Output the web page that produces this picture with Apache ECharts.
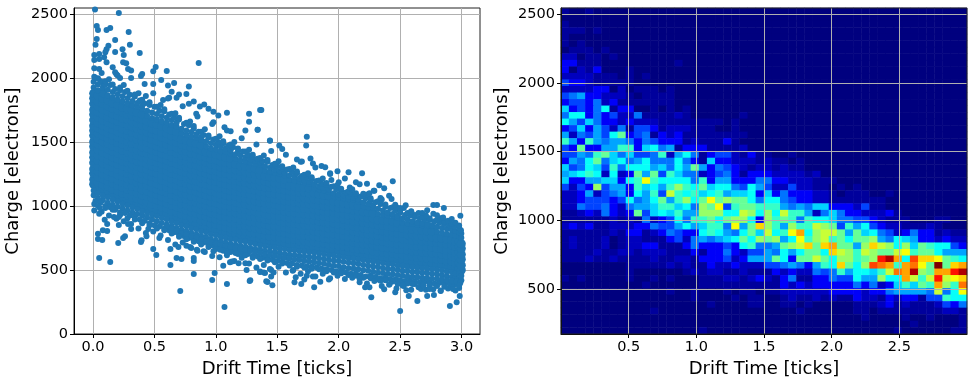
<!DOCTYPE html>
<html><head><meta charset="utf-8">
<script src="https://cdn.jsdelivr.net/npm/echarts@6/dist/echarts.min.js"></script>
<style>html,body{margin:0;padding:0;background:#fff}#c{width:974px;height:385px}</style></head>
<body><div id="c"></div>
<script>
const xTicks=[0,0.5,1,1.5,2,2.5,3];
const yTicks=[0,500,1000,1500,2000,2500];
const heatXTicks=[0.5,1,1.5,2,2.5];
const heatYTicks=[500,1000,1500,2000,2500];
const xTitle='Drift Time [ticks]';
const yTitle='Charge [electrons]';
// Left panel: each column is [drift time, charge, charge, ...]
const denseColumns=[
[0.005,1085,1122,1170,1208,1255,1290,1338,1380,1418,1465,1502,1550,1590,1628,1672,1715,1752,1800,1842,1880,1925,1970],
[0.04,1060,1100,1145,1188,1228,1272,1312,1355,1398,1440,1482,1525,1568,1610,1650,1695,1735,1778,1820,1862,1905,1950],
[0.08,1045,1082,1128,1165,1212,1250,1296,1335,1380,1418,1465,1502,1548,1588,1632,1672,1716,1755,1800,1840,1885,1925,1965],
[0.12,1025,1068,1108,1152,1192,1236,1276,1320,1360,1404,1444,1488,1528,1572,1612,1656,1696,1740,1780,1824,1864,1908],
[0.16,1010,1050,1095,1132,1178,1216,1262,1300,1346,1384,1430,1468,1514,1552,1598,1636,1682,1720,1766,1804,1850,1890],
[0.20,995,1035,1076,1118,1160,1202,1244,1286,1328,1370,1412,1454,1496,1538,1580,1622,1664,1706,1748,1790,1832,1874],
[0.24,980,1018,1062,1100,1146,1184,1230,1268,1314,1352,1398,1436,1482,1520,1566,1604,1650,1688,1734,1772,1818,1858],
[0.28,965,1005,1046,1088,1130,1172,1214,1256,1298,1340,1382,1424,1466,1508,1550,1592,1634,1676,1718,1760,1802,1842],
[0.32,950,988,1032,1070,1116,1154,1200,1238,1284,1322,1368,1406,1452,1490,1536,1574,1620,1658,1704,1742,1788,1820],
[0.36,938,976,1018,1060,1102,1144,1186,1228,1270,1312,1354,1396,1438,1480,1522,1564,1606,1648,1690,1732,1774,1805],
[0.40,925,960,1004,1042,1088,1126,1172,1210,1256,1294,1340,1378,1424,1462,1508,1546,1592,1630,1676,1714,1758,1785],
[0.44,910,950,992,1034,1076,1118,1160,1202,1244,1286,1328,1370,1412,1454,1496,1538,1580,1622,1664,1706,1745],
[0.48,895,934,978,1016,1062,1100,1146,1184,1230,1268,1314,1352,1398,1436,1482,1520,1566,1604,1650,1688,1730],
[0.52,880,922,964,1006,1048,1090,1132,1174,1216,1258,1300,1342,1384,1426,1468,1510,1552,1594,1636,1678,1718],
[0.56,868,906,950,988,1034,1072,1118,1156,1202,1240,1286,1324,1370,1408,1454,1492,1538,1576,1622,1660,1702],
[0.60,855,896,938,980,1022,1064,1106,1148,1190,1232,1274,1316,1358,1400,1442,1484,1526,1568,1610,1652,1690],
[0.64,842,878,922,960,1006,1044,1090,1128,1174,1212,1258,1296,1342,1380,1426,1464,1510,1548,1594,1632,1672],
[0.68,828,868,910,952,994,1036,1078,1120,1162,1204,1246,1288,1330,1372,1414,1456,1498,1540,1582,1622,1650],
[0.72,815,852,896,934,980,1018,1064,1102,1148,1186,1232,1270,1316,1354,1400,1438,1484,1522,1568,1604],
[0.76,802,842,884,926,968,1010,1052,1094,1136,1178,1220,1262,1304,1346,1388,1430,1472,1514,1556,1590],
[0.80,790,826,870,908,954,992,1038,1076,1122,1160,1206,1244,1290,1328,1374,1412,1458,1496,1542,1578],
[0.84,778,818,860,902,944,986,1028,1070,1112,1154,1196,1238,1280,1322,1364,1406,1448,1490,1532,1560],
[0.88,765,802,846,884,930,968,1014,1052,1098,1136,1182,1220,1266,1304,1350,1388,1434,1472,1518,1540],
[0.92,755,795,836,878,920,962,1004,1046,1088,1130,1172,1214,1256,1298,1340,1382,1424,1466,1505],
[0.96,742,780,824,862,908,946,992,1030,1076,1114,1160,1198,1244,1282,1328,1366,1412,1450,1490],
[1.00,730,772,814,856,898,940,982,1024,1066,1108,1150,1192,1234,1276,1318,1360,1402,1444,1478],
[1.04,722,758,802,840,886,924,970,1008,1054,1092,1138,1176,1222,1260,1306,1344,1390,1428,1464],
[1.08,714,752,794,836,878,920,962,1004,1046,1088,1130,1172,1214,1256,1298,1340,1382,1424,1450],
[1.12,706,742,784,822,868,906,952,990,1036,1074,1120,1158,1204,1242,1288,1326,1372,1410,1436],
[1.16,698,738,780,822,864,906,948,990,1032,1074,1116,1158,1200,1242,1284,1326,1368,1405],
[1.20,690,726,770,808,854,892,938,976,1022,1060,1106,1144,1190,1228,1274,1312,1358,1395],
[1.24,682,722,764,806,848,890,932,974,1016,1058,1100,1142,1184,1226,1268,1310,1350,1380],
[1.28,672,710,754,792,838,876,922,960,1006,1044,1090,1128,1174,1212,1258,1296,1340,1365],
[1.32,665,704,746,788,830,872,914,956,998,1040,1082,1124,1166,1208,1250,1292,1330,1352],
[1.36,658,694,738,776,822,860,906,944,990,1028,1074,1112,1158,1196,1242,1280,1320,1340],
[1.40,650,688,730,772,814,856,898,940,982,1024,1066,1108,1150,1192,1234,1276,1310],
[1.44,644,680,724,762,808,846,892,930,976,1014,1060,1098,1144,1182,1228,1266,1298],
[1.48,638,676,718,760,802,844,886,928,970,1012,1054,1096,1138,1180,1222,1260,1285],
[1.52,632,668,712,750,796,834,880,918,964,1002,1048,1086,1132,1170,1216,1250,1272],
[1.56,626,664,706,748,790,832,874,916,958,1000,1042,1084,1126,1168,1210,1240,1262],
[1.60,620,656,700,738,784,822,868,906,952,990,1036,1074,1120,1158,1204,1240],
[1.64,616,654,696,738,780,822,864,906,948,990,1032,1074,1116,1158,1200,1228],
[1.68,610,646,690,728,774,812,858,896,942,980,1026,1064,1110,1148,1194,1215],
[1.72,606,644,686,728,770,812,854,896,938,980,1022,1064,1106,1148,1185,1200],
[1.76,602,638,682,720,766,804,850,888,934,972,1018,1056,1102,1140,1172,1188],
[1.80,598,636,678,720,762,804,846,888,930,972,1014,1056,1098,1138,1170],
[1.84,592,628,672,710,756,794,840,878,924,962,1008,1046,1092,1130,1155],
[1.88,586,624,666,708,750,792,834,876,918,960,1002,1044,1086,1122,1140],
[1.92,580,616,660,698,744,782,828,866,912,950,996,1034,1080,1110,1128],
[1.96,575,614,656,698,740,782,824,866,908,950,992,1034,1076,1100],
[2.00,570,606,650,688,734,772,818,856,902,940,986,1024,1066,1092],
[2.04,564,602,644,686,728,770,812,854,896,938,980,1022,1060,1084],
[2.08,558,594,638,676,722,760,806,844,890,928,974,1012,1052,1072],
[2.12,552,590,632,674,716,758,800,842,884,926,968,1010,1046,1062],
[2.16,546,582,626,664,710,748,794,832,878,916,962,1000,1036,1052],
[2.20,540,578,620,662,704,746,788,830,872,914,956,998,1030],
[2.24,534,570,614,652,698,736,782,820,866,904,950,988,1018],
[2.28,528,566,608,650,692,734,776,818,860,902,944,986,1005],
[2.32,522,558,602,640,686,724,770,808,854,892,938,978],
[2.36,516,554,596,638,680,722,764,806,848,890,932,964],
[2.40,510,546,590,628,674,712,758,796,842,880,926,950],
[2.44,505,544,586,628,670,712,754,796,838,880,922,938],
[2.48,500,536,580,618,664,702,748,786,832,870,908,925],
[2.52,495,534,576,618,660,702,744,786,828,870,905],
[2.56,490,526,570,608,654,692,738,776,822,860,892],
[2.60,486,524,566,608,650,692,734,776,818,860,880],
[2.64,482,518,562,600,646,684,730,768,814,852,872],
[2.68,478,516,558,600,642,684,726,768,810,850,865],
[2.72,474,510,554,592,638,676,722,760,806,844,858],
[2.76,470,508,550,592,634,676,718,760,802,840,850],
[2.80,466,502,546,584,630,668,714,752,798,838],
[2.84,460,498,540,582,624,666,708,750,792,828],
[2.88,452,488,532,570,616,654,700,738,784,822],
[2.92,446,484,526,568,610,652,694,736,778,815],
[2.95,438,474,518,556,602,640,686,724,770,805],
[2.98,430,470,512,554,596,638,680,722,764,795],
[2.998,420,456,500,538,584,622,668,706,752,785]
];
// Left panel: uneven points hugging the upper and lower edge of the band
const upperEdge=[[.02,2000],[.06,1975],[.10,1950],[.14,1945],[.18,1915],[.22,1905],[.26,1890],[.30,1870],[.34,1855],[.38,1825],[.42,1800],[.46,1790],[.50,1775],[.54,1745],[.58,1740],[.62,1715],[.66,1690],[.70,1675],[.74,1640],[.78,1630],[.82,1605],[.86,1580],[.90,1555],[.94,1535],[.98,1520],[1.02,1500],[1.06,1490],[1.10,1470],[1.14,1460],[1.18,1430],[1.22,1425],[1.26,1400],[1.30,1385],[1.34,1370],[1.38,1350],[1.42,1345],[1.46,1320],[1.50,1310],[1.54,1295],[1.58,1285],[1.62,1265],[1.66,1255],[1.70,1235],[1.74,1225],[1.78,1210],[1.82,1195],[1.86,1175],[1.90,1165],[1.94,1150],[1.98,1130],[2.02,1120],[2.06,1105],[2.10,1095],[2.14,1085],[2.18,1075],[2.22,1060],[2.26,1045],[2.30,1030],[2.34,1015],[2.38,995],[2.42,985],[2.46,965],[2.50,950],[2.54,930],[2.58,925],[2.62,915],[2.66,905],[2.70,895],[2.74,890],[2.78,880],[2.82,870],[2.86,860],[2.90,850],[2.94,840],[2.98,830],[2.995,810],
[.04,1998],[.10,1975],[.16,1950],[.22,1925],[.28,1900],[.34,1872],[.40,1830],[.46,1810],[.52,1775],[.58,1755],[.64,1720],[.70,1690],[.76,1650],[.82,1625],[.88,1580],[.94,1550],[1.00,1525],[1.06,1505],[1.12,1480],[1.18,1450],[1.24,1425],[1.30,1400],[1.36,1375],[1.42,1360],[1.48,1330],[1.54,1310],[1.60,1290],[1.66,1270],[1.72,1245],[1.78,1225],[1.84,1200],[1.90,1180],[1.96,1155],[2.02,1135],[2.08,1115],[2.14,1100],[2.20,1080],[2.26,1060],[2.32,1038],[2.38,1012],[2.44,990],[2.50,965],[2.56,945],[2.62,930],[2.68,915],[2.74,905],[2.80,890],[2.86,878],[2.92,860],[2.98,848],
[.07,2040],[.13,1990],[.19,2030],[.25,1945],[.31,2000],[.37,1880],[.43,1860],[.49,1880],[.55,1790],[.61,1840],[.67,1725],[.73,1780],[.79,1660],[.85,1700],[.91,1600],[.97,1640],[1.03,1545],[1.09,1590],[1.15,1500],[1.21,1530],[1.27,1440],[1.33,1480],[1.39,1395],[1.45,1430],[1.51,1350],[1.57,1400],[1.63,1300],[1.69,1345],[1.75,1255],[1.81,1300],[1.87,1215],[1.93,1250],[1.99,1165],[2.05,1215],[2.11,1130],[2.17,1170],[2.23,1090],[2.29,1120],[2.35,1050],[2.41,1080],[2.47,990],[2.53,985],[2.59,955],[2.65,945],[2.71,925],[2.77,940],[2.83,905],[2.89,885],[2.95,870]];
const lowerEdge=[[.02,1040],[.06,1025],[.10,1000],[.14,990],[.18,970],[.22,950],[.26,945],[.30,925],[.34,915],[.38,895],[.42,885],[.46,865],[.50,850],[.54,840],[.58,825],[.62,810],[.66,795],[.70,780],[.74,765],[.78,750],[.82,740],[.86,725],[.90,715],[.94,695],[.98,690],[1.02,680],[1.06,670],[1.10,655],[1.14,650],[1.18,640],[1.22,630],[1.26,625],[1.30,610],[1.34,605],[1.38,595],[1.42,590],[1.46,580],[1.50,570],[1.54,565],[1.58,555],[1.62,550],[1.66,540],[1.70,535],[1.74,530],[1.78,525],[1.82,520],[1.86,510],[1.90,505],[1.94,500],[1.98,490],[2.02,495],[2.06,480],[2.10,470],[2.14,475],[2.18,460],[2.22,450],[2.26,455],[2.30,445],[2.34,435],[2.38,440],[2.42,430],[2.46,425],[2.50,420],[2.54,415],[2.58,420],[2.62,410],[2.66,405],[2.70,410],[2.74,400],[2.78,395],[2.82,400],[2.86,390],[2.90,395],[2.94,385],[2.98,380],
[.60,840],[.64,822],[.68,806],[.72,790],[.76,776],[.80,762],[.84,752],[.88,738],[.92,726],[.96,716],[1.0,708],[1.04,696],[1.08,688],[1.12,680],[1.16,674],[1.2,666],[1.24,656],[1.28,648],[1.32,640],[1.36,632],[1.40,622],[1.44,618],[1.48,610],[1.52,602],[1.56,596],[1.60,590],[1.64,582],[1.68,578],[1.72,570],[1.76,566],[1.80,560],[1.84,552],[1.88,548],[1.92,542],[1.96,534],[2.0,532],[2.04,522],[2.08,516],[2.12,512],[2.16,506],[2.2,498],[2.24,494],[2.28,486],[2.32,478],[2.36,476],[2.40,470],[2.44,466],[2.48,460],[2.52,456],[2.56,450],[2.6,448],[2.64,444],[2.68,440],[2.72,436],[2.76,432],[2.8,432],[2.84,426],[2.88,420],[2.92,416],[2.96,410],[2.99,400],
[.01,1015],[.04,1000],[.07,955],[.10,985],[.13,925],[.16,970],[.19,900],[.22,930],[.25,880],[.28,905],[.31,860],[.34,895],[.37,825],[.40,865],[.43,790],[.46,850],[.49,800],[.52,825],[.55,770],[.58,810],[.61,735],[.64,785],[.67,700],[.70,760],[.73,715],[.76,740],[.79,680],[.82,720],[.85,650],[.88,700],[.91,640],[.94,680],[.97,610],[1.00,665],[1.03,600],[1.06,650],[1.09,615],[1.12,640],[1.15,570],[1.18,625],[1.21,595],[1.24,615],[1.27,550],[1.30,595],[1.33,520],[1.36,585],[1.39,540],[1.42,575],[1.45,500],[1.48,560],[1.51,525],[1.54,550],[1.57,480],[1.60,535],[1.63,500],[1.66,525],[1.69,470],[1.72,520],[1.75,490],[1.78,510],[1.81,450],[1.84,505],[1.87,470],[1.90,490],[1.93,435],[1.96,480],[1.99,455],[2.02,475],[2.05,430],[2.08,460],[2.11,440],[2.14,455],[2.17,405],[2.20,440],[2.23,395],[2.26,435],[2.29,415],[2.32,425],[2.35,375],[2.38,420],[2.41,385],[2.44,410],[2.47,355],[2.50,400],[2.53,375],[2.56,395],[2.59,345],[2.62,390],[2.65,365],[2.68,385],[2.71,345],[2.74,380],[2.77,350],[2.80,375],[2.83,335],[2.86,370],[2.89,355],[2.92,365],[2.95,340],[2.98,360]];
// Left panel: loose points around the band, read one by one
const looseDrift=[0.016,0.21,0.03,0.04,0.11,0.14,0.29,0.03,0.18,0.02,0.30,0.125,0.11,0.24,0.18,0.10,0.25,0.38,0.86,0.01,0.05,0.09,0.01,0.05,0.11,0.245,0.27,0.51,0.49,0.60,0.40,0.39,0.31,0.285,0.18,0.2,0.22,0.16,0.01,0.05,0.01,0.42,0.49,0.555,0.66,0.61,0.78,0.64,0.70,0.76,0.68,0.62,0.57,0.82,0.78,0.905,0.87,0.94,0.98,1.09,1.02,1.27,1.37,1.27,1.12,1.07,1.34,1.44,1.24,0.84,0.98,1.36,1.34,1.44,1.74,1.735,1.516,1.54,1.77,1.66,1.70,1.79,1.89,1.86,1.99,2.08,2.19,1.93,1.94,2.0,2.14,2.44,2.33,2.37,2.23,2.285,2.09,2.25,2.2,2.34,2.43,2.46,2.545,2.50,2.59,2.77,2.80,2.856,2.72,2.68,2.80,2.99,2.92,2.85,2.5,2.905,2.96,2.985,2.64,2.72,2.775,2.57,2.46,2.265,2.215,2.25,2.37,2.55,2.67,1.80,1.46,1.41,1.695,1.64,1.85,1.92,1.28,1.45,1.36,1.39,1.47,1.44,1.625,1.74,1.72,1.65,1.79,2.17,2.34,2.48,2.52,2.60,2.74,2.83,2.93,2.98,2.69,2.415,0.05,0.14,0.71,1.07,1.09,0.97,0.99,0.82,1.275,1.42,0.63,0.82,0.82,0.68,0.72,0.49,0.515,0.63,0.695,0.205,0.04,0.04,0.075,0.08,0.115,0.26,0.245,0.39,0.395,0.21,0.095,0.115,0.01,0.05,0.055,0.17,0.21,0.285,0.31,0.45,0.435,0.54,0.76,0.80,0.845,1.06,1.115,1.13,1.185,1.24,1.25,1.36,1.40,0.90,0.98,1.035,1.09,1.16];
const looseCharge=[2536,2508,2406,2375,2375,2391,2360,2305,2297,2260,2260,2253,2224,2224,2203,2201,2180,2196,2118,2180,2188,2162,2141,2149,2123,2123,2115,2087,2053,2055,2032,2016,2058,2070,2045,2020,2000,2084,2076,2071,2010,1954,1954,1985,1962,1941,1933,1892,1871,1876,1845,1845,1829,1816,1798,1793,1777,1759,1736,1728,1707,1720,1751,1658,1585,1616,1595,1509,1590,1720,1655,1751,1596,1511,1542,1472,1472,1446,1371,1364,1348,1333,1302,1312,1271,1263,1255,1255,1204,1186,1186,1193,1162,1139,1173,1119,1144,1100,1095,1062,1054,1010,1005,985,959,1008,1008,985,966,946,928,923,899,910,180,218,249,296,257,296,304,296,327,288,365,365,350,342,352,365,381,412,391,404,409,425,420,450,489,481,481,507,494,456,425,443,450,430,417,391,378,391,352,340,352,378,378,391,594,563,336,211,391,422,477,469,414,406,539,594,570,594,586,664,617,664,680,711,784,742,734,810,805,763,750,719,732,852,893,860,964,940,984,914,914,860,820,820,763,750,690,672,659,534,560,567,553,553,500,484,477,646,646,659,633,633];
// Right panel: 2D histogram levels, top row first, one base-36 digit per bin (blank is 0)
const heatRows=[
"1001","","1","11101","1","101","011101","2201101","33111 00000 00001","30213 0001",
"22221 11010 1","43321 11110 00","22223 30201 1101","45633 22210 1111","34435 23111 1111",
"73435 81330 01010 1","58835 34225 11112 10000 001","86475 33232 22111 11111 01","34736 42514 43122 21110 01","62546 48a34 51323 11111 111 ",
"96396 56653 54333 12111 31","43a33 66993 78561 33311 112","44659 a7574 45926 85134 42131 1001","3658a 57856 85558 53173 32221 21101","74587 49588 86758 6a635 43212 21211",
"67898 2823a 6a497 55234 53133 32222 12","73366 77389 d9888 85936 63335 53322 2111","4243b 46639 7869b 98a78 85486 42242 21101 01","22362 45638 694c9 89789 67783 73533 32210 11100 1","22344 43485 68a69 b8ada baa85 88543 32211 11111",
"22544 53256 67997 85bad 49aa9 99656 57733 32411","11232 5323a 47879 66bbb 88cb8 b8c99 62575 33222 31","11111 12121 52348 599a8 abb83 b9a95 98875 54432 11100 011","23231 12223 35446 86799 5d6ae b96b9 9cba4 96843 22111 21","11111 12133 12354 33898 658a7 c89df 8bcca 6a785 42353 31211",
"12111 20122 11134 25656 78a8b ab68d 9bc9a 8aab6 58763 32322","12111 20122 33111 35333 43895 56abc eaefa a6bec b8b7a 98843","11112 11221 22211 13133 53244 65868 aa8ec b9cba acd9a a8666","11121 12111 12112 21333 42366 6a83a aca8b b9abi kf8he eda98","00000 00011 11121 21132 23222 44565 3698e a8bhg f9fgd alaef",
"00000 00010 00000 12122 11211 13232 25459 68879 cgfkb affik","10100 00010 01010 00111 22123 21351 13354 4866b 88fc9 cicde","00000 00000 10000 00111 11111 11323 23333 35352 3797a 9fb9g","00000 00000 00010 01000 10110 11222 22233 33233 56666 5c58d","00000 00000 00000 01000 01011 00121 12121 13221 32331 44988",
"00000 00000 00000 00010 00011 00110 10000 01112 31211 12435","00000 00000 01000 00000 00000 00001 00000 01101 11111 11221","00000 00000 00000 00000 00000 00000 00000 00100 00100 10001","00000 00000 00000 00000 00000 00000 00000 00000 00010 00001","00000 00000 00000 00100 00000 00000 00000 00000 01000 00011"
];
// the faintest levels read as fractions of a count
const lowLevels=[0,0.6,1.3,2.5,4];
const jet=['#00007f','#0000ff','#007fff','#00ffff','#7fff7f','#ffff00','#ff7f00','#ff0000','#7f0000'];

const coreData=[],rimData=[];
denseColumns.forEach(c=>{for(let i=1;i<c.length;i++){(i>2&&i<c.length-2?coreData:rimData).push([c[0],c[i]]);}});
upperEdge.forEach(p=>rimData.push(p));
lowerEdge.forEach(p=>rimData.push(p));
looseDrift.forEach((d,i)=>rimData.push([d,looseCharge[i]]));
const heatData=[];
heatRows.forEach((r,t)=>{const s=r.replace(/ /g,'');for(let c=0;c<50;c++){let v=c<s.length?parseInt(s[c],36):0;if(v<lowLevels.length)v=lowLevels[v];heatData.push([c,49-t,v]);}});
const idx=[...Array(50).keys()];
const font='"DejaVu Sans"';
const lab={fontFamily:font,fontSize:14.5,color:'#000',margin:6};
const nm={fontFamily:font,fontSize:18,color:'#000'};
const grd={show:true,lineStyle:{color:'#b0b0b0',width:1}};
const tick={show:true,length:4,lineStyle:{color:'#000',width:1}};
function valAxis(o){return Object.assign({type:'value',nameLocation:'middle',axisLine:{show:true,onZero:false,lineStyle:{color:'#000'}},splitLine:grd},o);}
const chart=echarts.init(document.getElementById('c'),null,{renderer:'canvas'});
chart.setOption({
animation:false,
backgroundColor:'#fff',
grid:[
{left:74,top:8,width:406,height:326,show:true,borderColor:'#222',borderWidth:1,backgroundColor:'transparent'},
{left:561,top:8,width:406,height:326,show:false},
{left:561,top:8,width:406,height:326,show:true,borderColor:'#222',borderWidth:1,backgroundColor:'transparent',z:20}
],
xAxis:[
valAxis({gridIndex:0,min:-0.155,max:3.15,name:xTitle,nameGap:26,nameTextStyle:nm,axisLabel:Object.assign({customValues:xTicks,formatter:v=>v.toFixed(1)},lab),axisTick:Object.assign({customValues:xTicks},tick)}),
{type:'category',gridIndex:1,data:idx,show:false},
valAxis({gridIndex:2,z:10,min:0,max:3,name:xTitle,nameGap:26,nameTextStyle:nm,axisLabel:Object.assign({customValues:heatXTicks,formatter:v=>v.toFixed(1)},lab),axisTick:Object.assign({customValues:heatXTicks},tick)})
],
yAxis:[
valAxis({gridIndex:0,min:0,max:2547,name:yTitle,nameGap:52,nameTextStyle:nm,axisLabel:Object.assign({customValues:yTicks,formatter:v=>String(v)},lab),axisTick:Object.assign({customValues:yTicks},tick)}),
{type:'category',gridIndex:1,data:idx,show:false},
valAxis({gridIndex:2,z:10,min:173,max:2546,name:yTitle,nameGap:50,nameTextStyle:nm,axisLabel:Object.assign({customValues:heatYTicks,formatter:v=>String(v)},lab),axisTick:Object.assign({customValues:heatYTicks},tick)})
],
visualMap:{show:false,type:'continuous',seriesIndex:2,min:0,max:21,dimension:2,inRange:{color:jet}},
series:[
{type:'scatter',xAxisIndex:0,yAxisIndex:0,data:coreData,symbolSize:9,itemStyle:{color:'#1f77b4',opacity:1},progressive:0,silent:true},
{type:'scatter',xAxisIndex:0,yAxisIndex:0,data:rimData,symbolSize:6,itemStyle:{color:'#1f77b4',opacity:1},progressive:0,silent:true},
{type:'heatmap',xAxisIndex:1,yAxisIndex:1,data:heatData,progressive:0,silent:true,z:2}
]
});
</script></body></html>
